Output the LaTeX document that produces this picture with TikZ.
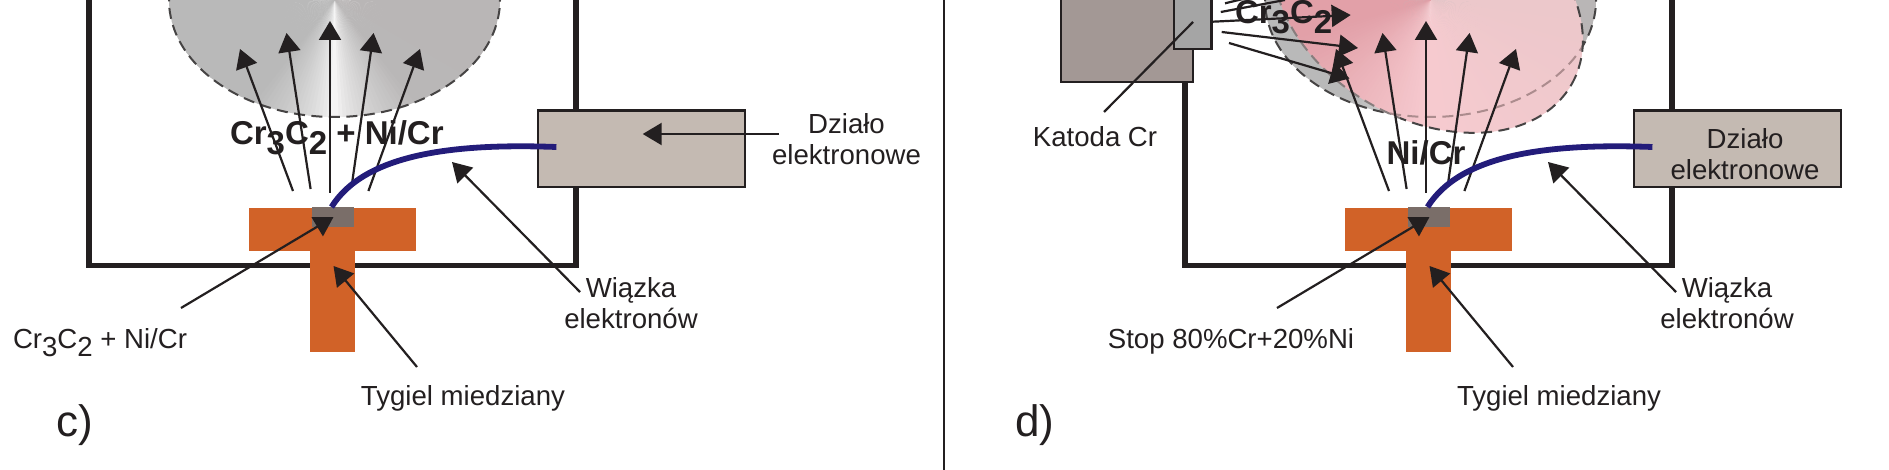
\documentclass[tikz,border=0pt]{standalone}
\usepackage{fontspec}
\setmainfont{Liberation Sans}
\usetikzlibrary{arrows.meta}
\definecolor{ink}{RGB}{35,31,32}
\definecolor{copper}{RGB}{209,98,40}
\definecolor{slug}{RGB}{122,110,105}
\definecolor{gunfill}{RGB}{196,186,178}
\definecolor{beamblue}{RGB}{35,28,122}
\definecolor{cathbig}{RGB}{163,152,149}
\definecolor{cathsmall}{RGB}{165,165,165}
\definecolor{dashdark}{RGB}{70,68,68}
\definecolor{dashpale}{RGB}{172,140,142}
\definecolor{dashgrey}{RGB}{135,125,125}
\newcommand{\lab}{\fontsize{27.6}{31}\selectfont}
\newcommand{\blab}{\fontsize{33}{36}\selectfont\bfseries}
\newcommand{\subd}[1]{\raisebox{-.3em}{#1}}
\tikzset{
  arrowline/.style={draw=ink,line width=2.2pt,-{Triangle[length=19pt,width=22pt]}},
  plainline/.style={draw=ink,line width=2.2pt},
  wall/.style={draw=ink,line width=5.2pt,miter limit=10},
  beam/.style={draw=beamblue,line width=5.8pt},
  cloud/.style={dash pattern=on 11pt off 6.5pt,line width=2pt},
  txt/.style={text=ink,inner sep=0pt,outer sep=0pt,font=\lab,anchor=base},
  btxt/.style={text=ink,inner sep=0pt,outer sep=0pt,font=\blab,anchor=base},
  rotcloud/.style={rotate around={-30:(1428,2)}}
}
% ----- conical fill, grey version
\newcommand{\greyfan}[2]{%
  \begin{scope}[shift={(#1,#2)}]
  \foreach \a in {0,2,...,178}{%
    \pgfmathsetmacro\tt{abs(\a+1-90)}%
    \pgfmathtruncatemacro\lv{255-70*pow(min(\tt/40,1),0.55)}%
    \pgfmathtruncatemacro\lw{\lv-(\a<90 ? 3*(90-\a)/90 : 0)}%
    \definecolor{fanc}{RGB}{\lv,\lw,\lw}%
    \fill[fanc] (0,0) -- (\a:320) -- ({\a+2.6}:320) -- cycle;
  }
  \end{scope}}
% ----- conical fill, pink version
\newcommand{\pinkfan}[2]{%
  \begin{scope}[shift={(#1,#2)}]
  \foreach \a in {-30,-28,...,208}{%
    \pgfmathsetmacro\s{max(0,min(180,\a+1))}%
    \pgfmathtruncatemacro\rr{\s<90 ? 236+11*\s/90 : (\s<165 ? 247-21*(\s-90)/75 : 226)}%
    \pgfmathtruncatemacro\gg{\s<90 ? 200+3*\s/90 : (\s<165 ? 203-43*(\s-90)/75 : 160)}%
    \pgfmathtruncatemacro\bb{\s<90 ? 203+5*\s/90 : (\s<165 ? 208-40*(\s-90)/75 : 168)}%
    \definecolor{fanc}{RGB}{\rr,\gg,\bb}%
    \fill[fanc] (0,0) -- (\a:320) -- ({\a+2.6}:320) -- cycle;
  }
  \end{scope}}
% ----- everything that both panels share
\newcommand{\panelframe}{%
  \draw[wall] (89,-6) -- (89,265.5) -- (576,265.5) -- (576,-6);
}
\newcommand{\panelbody}{%
  % crucible
  \fill[copper] (249,208) rectangle (416,251);
  \fill[copper] (310,208) rectangle (355,352);
  \fill[slug] (312,207) rectangle (354,227);
  \node[coordinate] (slugtip) at (333.5,217) {};
  \node[coordinate] (slugfoot) at (181,308) {};
  \node[coordinate] (tygtip) at (333.5,266) {};
  \node[coordinate] (tygfoot) at (417,367) {};
  % vapour arrows
  \foreach \i/\xa/\ya/\xb/\yb in {1/293/191/240/49,2/310.6/189/286.5/33,3/330/193/330/21,4/351.5/187/373.6/33,5/368.4/191/420/49}{%
    \node[coordinate] (va\i) at (\xa,\ya) {};
    \node[coordinate] (vb\i) at (\xb,\yb) {};
    \draw[arrowline] (va\i) -- (vb\i);
  }
  % gun
  \node[draw=ink,line width=2.4pt,fill=gunfill,minimum width=207pt,minimum height=76.3pt,inner sep=0pt,outer sep=0pt] (gun) at (641.5,148.8) {};
  % beam
  \node[coordinate] (bs) at (331.5,207) {};
  \node[coordinate] (be) at (556.4,147) {};
  \draw[beam] (bs) .. controls (364,155) and (450,143) .. (be);
  % beam arrow
  \node[coordinate] (wtip) at (452,162) {};
  \node[coordinate] (wfoot) at (580,292) {};
  \draw[arrowline] (wfoot) -- (wtip);
  \draw[arrowline] (slugfoot) -- (slugtip);
  \draw[arrowline] (tygfoot) -- (tygtip);
  \node[txt,align=center] (wl) at (631,328) {Wiązka\\elektronów};
  \node[txt] (tl) at (463,405) {Tygiel miedziany};
}
\begin{document}
\begin{tikzpicture}[x=1pt,y=-1pt]
\useasboundingbox (0,0) rectangle (1889,470);
\clip (0,0) rectangle (1889,470);
\fill[white] (0,0) rectangle (1889,470);
% divider
\node[coordinate] (dtop) at (944,0) {};
\node[coordinate] (dbot) at (944,470) {};
\draw[draw=ink,line width=2pt] (dtop) -- (dbot);

% ================= panel c
\begin{scope}[name prefix=c-]
  \panelframe
  \begin{scope}
    \clip (334.5,0) ellipse [x radius=165.5pt,y radius=117pt];
    \greyfan{334.5}{0}
  \end{scope}
  \draw[cloud,draw=dashdark] (334.5,0) ellipse [x radius=165.5pt,y radius=117pt];
  \node[btxt,anchor=base west] (mat) at (230,145) {Cr\subd{3}C\subd{2} + Ni/Cr};
  \panelbody
  \node[coordinate] (ga) at (778.7,134) {};
  \node[coordinate] (gb) at (642.7,134) {};
  \draw[arrowline] (ga) -- (gb);
  \node[txt,align=center] (gl) at (846.5,165) {Działo\\elektronowe};
  \node[txt,anchor=base west] (sl) at (13,348) {Cr\subd{3}C\subd{2} + Ni/Cr};
  \node[text=ink,inner sep=0pt,font=\fontsize{44}{48}\selectfont,anchor=base west] (cl) at (56,436.7) {c)};
\end{scope}

% ================= panel d
\begin{scope}[name prefix=d-,xshift=1096pt]
  \panelframe
\end{scope}
\begin{scope}[name prefix=d-]
  % grey cloud
  \begin{scope}
    \clip (1430.5,0) ellipse [x radius=165.5pt,y radius=117pt];
    \greyfan{1430.5}{0}
  \end{scope}
  \draw[cloud,draw=dashdark] (1430.5,0) ellipse [x radius=165.5pt,y radius=117pt];
  % pink cloud
  \begin{scope}
    \clip[rotcloud] (1428,2) ellipse [x radius=165.5pt,y radius=117pt];
    \pinkfan{1430}{0}
    \draw[cloud,draw=dashpale] (1430.5,0) ellipse [x radius=165.5pt,y radius=117pt];
  \end{scope}
  \begin{scope}
    \clip (1400,-10) rectangle (1700,200);
    \draw[cloud,draw=dashdark,rotcloud] (1428,2) ellipse [x radius=165.5pt,y radius=117pt];
  \end{scope}
  \begin{scope}
    \clip (1200,-10) rectangle (1400,200);
    \draw[cloud,draw=dashgrey,rotcloud] (1428,2) ellipse [x radius=165.5pt,y radius=117pt];
  \end{scope}
  % cathode
  \node[draw=ink,line width=2.4pt,fill=cathbig,minimum width=132pt,minimum height=102pt,inner sep=0pt,outer sep=0pt] (kbig) at (1127,31) {};
  \node[draw=ink,line width=2.4pt,fill=cathsmall,minimum width=37.7pt,minimum height=69.3pt,inner sep=0pt,outer sep=0pt] (ksmall) at (1192.8,14.6) {};
  \node[btxt] (ni) at (1426,165) {Ni/Cr};
\end{scope}
\begin{scope}[name prefix=d-,xshift=1096pt]
  \panelbody
\end{scope}
\begin{scope}[name prefix=d-]
  % cathode rays
  \foreach \i/\xa/\ya/\xb/\yb in {3/1212.7/21.7/1350.7/15,4/1221.7/32/1358/48,5/1229/43/1349.5/78.5}{%
    \node[coordinate] (ra\i) at (\xa,\ya) {};
    \node[coordinate] (rb\i) at (\xb,\yb) {};
    \draw[arrowline] (ra\i) -- (rb\i);
  }
  \foreach \i/\xa/\ya/\xb/\yb in {1/1225/3.3/1243/-1,2/1220.8/12/1285/0}{%
    \node[coordinate] (ra\i) at (\xa,\ya) {};
    \node[coordinate] (rb\i) at (\xb,\yb) {};
    \draw[plainline] (ra\i) -- (rb\i);
  }
  \node[btxt,anchor=base west] (crc) at (1235,24) {Cr\subd{3}C\subd{2}};
  \node[coordinate] (ka) at (1193,22) {};
  \node[coordinate] (kb) at (1104,112) {};
  \draw[plainline] (ka) -- (kb);
  \node[txt] (kl) at (1095,147) {Katoda Cr};
  \node[txt] (stl) at (1231,348) {Stop 80\%Cr+20\%Ni};
  \node[txt,align=center] (gl) at (1745,179.3) {Działo\\elektronowe};
  \node[text=ink,inner sep=0pt,font=\fontsize{44}{48}\selectfont,anchor=base west] (dl) at (1015,436.7) {d)};
\end{scope}
\end{tikzpicture}
\end{document}
